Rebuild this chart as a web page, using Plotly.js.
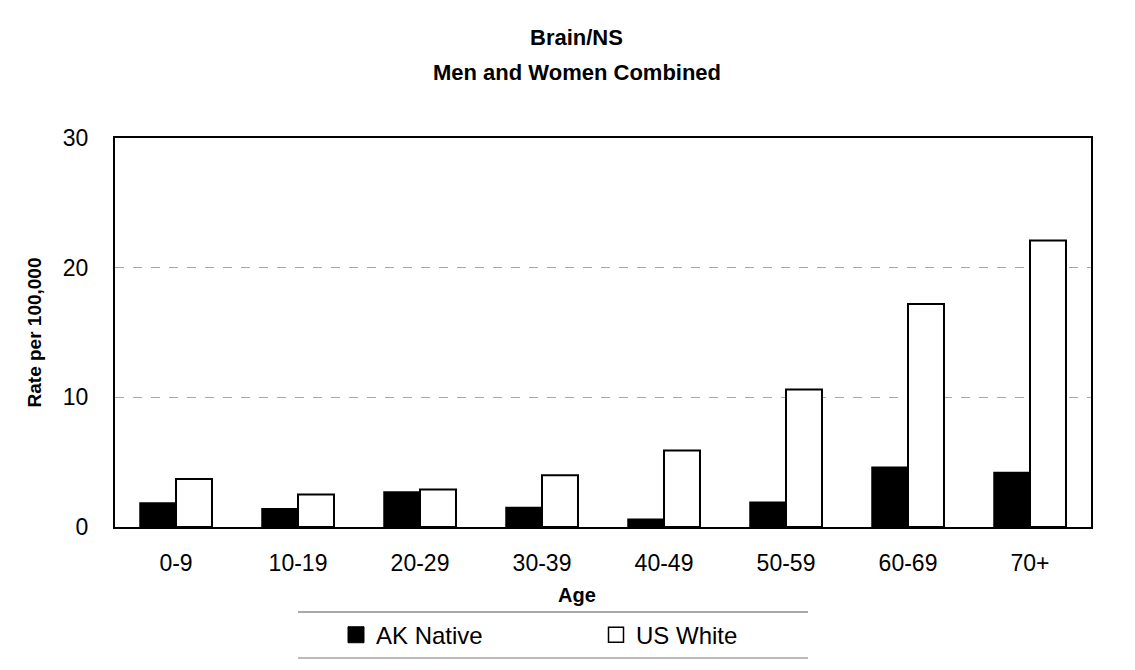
<!DOCTYPE html>
<html>
<head>
<meta charset="utf-8">
<script src="https://cdn.plot.ly/plotly-3.0.1.min.js"></script>
<style>html,body{margin:0;padding:0;background:#fff;}#chart{width:1135px;height:670px;}</style>
</head>
<body>
<div id="chart"></div>
<script>
const ageGroups = ["0-9", "10-19", "20-29", "30-39", "40-49", "50-59", "60-69", "70+"];
const akNative = [1.85, 1.4, 2.7, 1.5, 0.6, 1.9, 4.6, 4.2];
const usWhite = [3.7, 2.5, 2.9, 4.0, 5.9, 10.6, 17.2, 22.1];
const yTicks = [0, 10, 20, 30];

const FONT = "Liberation Sans, Arial, sans-serif";

const traces = [
  {
    type: "bar", name: "AK Native", x: ageGroups, y: akNative, showlegend: false,
    marker: {color: "#000000", line: {color: "#000000", width: 1.5}}
  },
  {
    type: "bar", name: "US White", x: ageGroups, y: usWhite, showlegend: false,
    marker: {color: "#ffffff", line: {color: "#000000", width: 2}}
  },
  // legend-only entries with larger square swatches
  {
    type: "scatter", mode: "markers", name: "AK Native", x: [ageGroups[0]], y: [null],
    marker: {symbol: "square", size: 16, color: "#000000", line: {color: "#000", width: 1}}
  },
  {
    type: "scatter", mode: "markers", name: "US White", x: [ageGroups[0]], y: [null],
    marker: {symbol: "square", size: 15, color: "#ffffff", line: {color: "#000", width: 1.5}}
  }
];

const layout = {
  width: 1135, height: 670,
  margin: {l: 115, r: 44, t: 138, b: 143},
  paper_bgcolor: "#ffffff", plot_bgcolor: "#ffffff",
  font: {family: FONT, color: "#000000"},
  barmode: "group", bargap: 0.41, bargroupgap: 0,
  showlegend: true,
  legend: {
    orientation: "h", x: (336 - 115) / 976, xanchor: "left", y: -0.278, yanchor: "middle",
    font: {family: FONT, size: 24, color: "#000"},
    entrywidth: 215, entrywidthmode: "pixels", itemwidth: 30,
    bgcolor: "rgba(0,0,0,0)", borderwidth: 0
  },
  xaxis: {
    type: "category",
    showline: true, mirror: true, linecolor: "#000", linewidth: 2,
    ticks: "", ticklabelstandoff: 14,
    tickfont: {family: FONT, size: 23, color: "#000"},
    showgrid: false, zeroline: false
  },
  yaxis: {
    range: [0, 30], tickvals: yTicks, ticktext: yTicks.map(String),
    showline: true, mirror: true, linecolor: "#000", linewidth: 2,
    ticks: "", ticklabelstandoff: 20,
    tickfont: {family: FONT, size: 23, color: "#000"},
    showgrid: true, gridcolor: "#a8a8a8", gridwidth: 1, griddash: "dash",
    zeroline: false,
    title: {text: "<b>Rate per 100,000</b>", font: {family: FONT, size: 19, color: "#000"}, standoff: 16}
  },
  annotations: [
    {text: "<b>Brain/NS</b>", xref: "paper", yref: "paper", x: 0.473, y: (527 - 37) / 389,
     xanchor: "center", yanchor: "middle", showarrow: false,
     font: {family: FONT, size: 22, color: "#000"}},
    {text: "<b>Men and Women Combined</b>", xref: "paper", yref: "paper", x: 0.473, y: (527 - 72) / 389,
     xanchor: "center", yanchor: "middle", showarrow: false,
     font: {family: FONT, size: 22, color: "#000"}},
    {text: "<b>Age</b>", xref: "paper", yref: "paper", x: 0.473, y: (527 - 595) / 389,
     xanchor: "center", yanchor: "middle", showarrow: false,
     font: {family: FONT, size: 20, color: "#000"}}
  ],
  shapes: [
    {type: "line", xref: "paper", yref: "paper", x0: (298 - 115) / 976, x1: (808 - 115) / 976,
     y0: (527 - 612) / 389, y1: (527 - 612) / 389, line: {color: "#555", width: 1}},
    {type: "line", xref: "paper", yref: "paper", x0: (298 - 115) / 976, x1: (808 - 115) / 976,
     y0: (527 - 658) / 389, y1: (527 - 658) / 389, line: {color: "#777", width: 1}}
  ]
};

Plotly.newPlot("chart", traces, layout, {displayModeBar: false, staticPlot: true});
</script>
</body>
</html>
